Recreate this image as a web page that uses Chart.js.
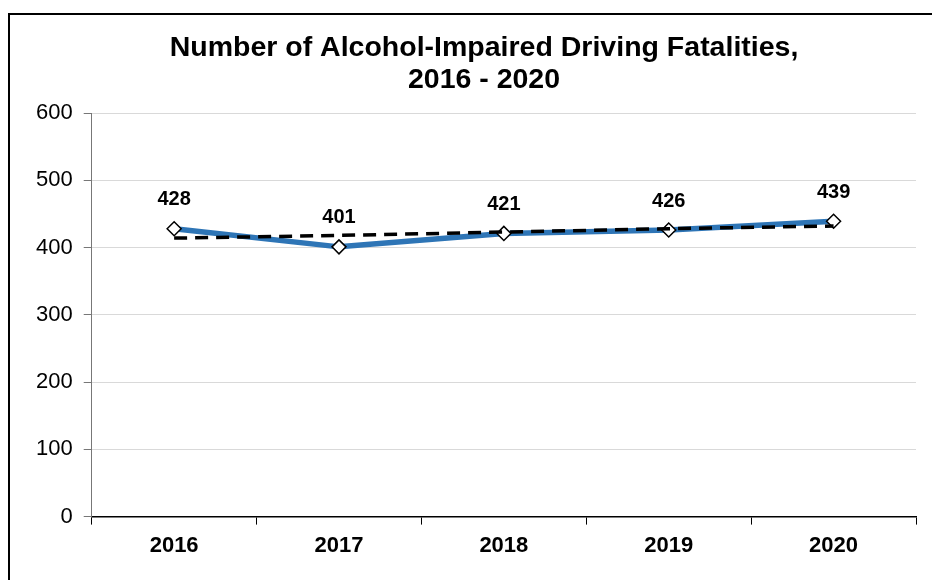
<!DOCTYPE html>
<html>
<head>
<meta charset="utf-8">
<script src="https://cdn.jsdelivr.net/npm/chart.js@4/dist/chart.umd.min.js"></script>
<style>
  html, body { margin: 0; padding: 0; background: #fff; }
  #wrap { width: 932px; height: 580px; position: relative; }
</style>
</head>
<body>
<div id="wrap"><canvas id="chart"></canvas></div>
<script>
// data
const years = ['2016', '2017', '2018', '2019', '2020'];
const fatalities = [428, 401, 421, 426, 439];
const trend = [414, 418, 423, 428, 432];
const yTicks = [0, 100, 200, 300, 400, 500, 600];
const titleLines = ['Number of Alcohol-Impaired Driving Fatalities,', '2016 - 2020'];

const FONT = '"Liberation Sans", Arial, sans-serif';

// frame + title drawn behind the chart
const framePlugin = {
  id: 'frame',
  beforeDraw(chart){
    const ctx = chart.ctx;
    ctx.save();
    ctx.strokeStyle = '#000';
    ctx.lineWidth = 2;
    ctx.strokeRect(9, 14, 1000, 700);
    ctx.fillStyle = '#000';
    ctx.font = 'bold 28.5px ' + FONT;
    ctx.textAlign = 'center';
    ctx.textBaseline = 'middle';
    ctx.fillText(titleLines[0], 484, 48);
    ctx.fillText(titleLines[1], 484, 80);
    ctx.restore();
  }
};

// value labels above each point
const labelPlugin = {
  id: 'valueLabels',
  afterDatasetsDraw(chart){
    const ctx = chart.ctx;
    const meta = chart.getDatasetMeta(1);
    ctx.save();
    ctx.fillStyle = '#000';
    ctx.font = 'bold 20px ' + FONT;
    ctx.textAlign = 'center';
    ctx.textBaseline = 'middle';
    meta.data.forEach((pt, i) => {
      ctx.fillText(String(fatalities[i]), pt.x, pt.y - 29);
    });
    ctx.restore();
  }
};

new Chart(document.getElementById('chart'), {
  type: 'line',
  data: {
    labels: years,
    datasets: [
      {
        label: 'Trend',
        data: trend,
        borderColor: '#000',
        borderWidth: 3.5,
        borderDash: [13, 8],
        pointRadius: 0,
        tension: 0,
        fill: false,
        order: 1
      },
      {
        label: 'Fatalities',
        data: fatalities,
        borderColor: '#2E75B6',
        borderWidth: 5.5,
        pointStyle: 'rectRot',
        pointRadius: 7,
        pointBackgroundColor: '#fff',
        pointBorderColor: '#000',
        pointBorderWidth: 1.5,
        tension: 0,
        fill: false,
        order: 2
      }
    ]
  },
  options: {
    responsive: true,
    maintainAspectRatio: false,
    animation: false,
    layout: { padding: { top: 113, right: 16, left: 25, bottom: 13 } },
    plugins: {
      legend: { display: false },
      title: { display: false },
      tooltip: { enabled: false }
    },
    scales: {
      x: {
        offset: true,
        grid: {
          display: true,
          offset: true,
          drawOnChartArea: false,
          drawTicks: true,
          tickLength: 8,
          tickColor: '#000'
        },
        border: { color: '#000', width: 1.5 },
        ticks: {
          color: '#000',
          font: { family: FONT, size: 22, weight: 'bold' },
          padding: 8
        }
      },
      y: {
        min: 0,
        max: 600,
        afterBuildTicks(scale){ scale.ticks = yTicks.map(v => ({ value: v })); },
        grid: {
          color: '#d9d9d9',
          tickColor: '#777',
          tickLength: 8,
          lineWidth: 1
        },
        border: { color: '#777', width: 1 },
        ticks: {
          color: '#000',
          font: { family: FONT, size: 22 },
          padding: 11
        }
      }
    }
  },
  plugins: [framePlugin, labelPlugin]
});
</script>
</body>
</html>
